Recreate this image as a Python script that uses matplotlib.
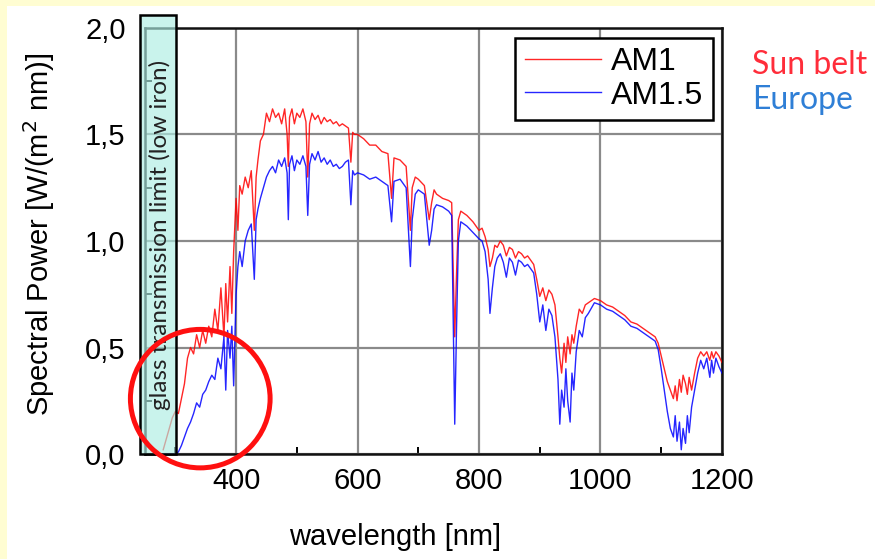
import numpy as np
import matplotlib.pyplot as plt
from matplotlib.patches import Rectangle, Ellipse
from matplotlib.ticker import MultipleLocator, FuncFormatter

# wavelength grid [nm] and spectral power [W/(m^2 nm)]
wavelength = [
    280, 285, 290, 295, 300, 305, 310, 315, 320, 325, 330, 335, 340, 345, 350, 355,
    360, 365, 370, 375, 380, 383, 386, 390, 393, 396, 400, 403, 406, 410, 415, 420,
    425, 430, 433, 436, 440, 445, 450, 455, 460, 465, 470, 475, 480, 484, 486, 488,
    492, 496, 500, 505, 510, 515, 518, 521, 525, 530, 535, 540, 545, 550, 555, 560,
    565, 570, 575, 580, 585, 589, 592, 595, 600, 610, 620, 630, 640, 650, 656, 660,
    670, 680, 687, 690, 695, 700, 710, 718, 722, 726, 730, 740, 750, 755, 760, 763,
    766, 770, 780, 790, 800, 805, 810, 815, 818, 822, 826, 830, 835, 840, 845, 850,
    855, 860, 865, 870, 875, 880, 885, 890, 895, 900, 905, 910, 915, 920, 925, 930,
    933, 936, 940, 943, 946, 950, 953, 956, 960, 965, 970, 975, 980, 990, 1000, 1010,
    1020, 1030, 1040, 1050, 1060, 1070, 1080, 1090, 1095, 1100, 1105, 1110, 1115, 1120,
    1123, 1126, 1130, 1133, 1136, 1140, 1143, 1146, 1150, 1155, 1160, 1165, 1170, 1175,
    1180, 1183, 1186, 1190, 1195, 1200,
]

am1 = [
    0.02, 0.07, 0.12, 0.17, 0.20, 0.19, 0.26, 0.33, 0.45, 0.50, 0.47, 0.56, 0.50, 0.58, 0.52, 0.60,
    0.55, 0.68, 0.58, 0.78, 0.55, 0.80, 0.62, 0.88, 0.66, 0.95, 1.20, 1.05, 1.26, 1.22, 1.30, 1.25,
    1.33, 1.05, 1.30, 1.38, 1.47, 1.50, 1.60, 1.56, 1.62, 1.58, 1.60, 1.55, 1.62, 1.50, 1.35, 1.58,
    1.62, 1.55, 1.60, 1.58, 1.62, 1.56, 1.30, 1.55, 1.60, 1.57, 1.59, 1.55, 1.58, 1.56, 1.57, 1.55,
    1.56, 1.54, 1.55, 1.54, 1.53, 1.37, 1.51, 1.50, 1.50, 1.48, 1.45, 1.45, 1.42, 1.41, 1.20, 1.39,
    1.38, 1.35, 1.05, 1.25, 1.30, 1.29, 1.26, 1.10, 1.18, 1.24, 1.22, 1.20, 1.19, 1.18, 0.55, 0.85,
    1.10, 1.14, 1.12, 1.09, 1.05, 1.06, 1.02, 0.96, 0.88, 0.92, 0.98, 0.97, 1.00, 0.98, 0.93, 0.97,
    0.96, 0.92, 0.95, 0.94, 0.92, 0.93, 0.91, 0.89, 0.82, 0.74, 0.78, 0.72, 0.77, 0.75, 0.70, 0.55,
    0.45, 0.38, 0.52, 0.43, 0.55, 0.47, 0.56, 0.52, 0.60, 0.68, 0.66, 0.70, 0.71, 0.73, 0.72, 0.70,
    0.69, 0.67, 0.65, 0.62, 0.61, 0.59, 0.57, 0.55, 0.52, 0.46, 0.40, 0.34, 0.30, 0.26,
    0.32, 0.25, 0.35, 0.29, 0.37, 0.33, 0.28, 0.36, 0.30, 0.38, 0.45, 0.48, 0.46, 0.48,
    0.44, 0.48, 0.45, 0.48, 0.46, 0.43,
]

am15 = [
    0.00, 0.00, 0.00, 0.00, 0.00, 0.01, 0.04, 0.08, 0.12, 0.15, 0.19, 0.24, 0.22, 0.28, 0.30, 0.34,
    0.37, 0.35, 0.45, 0.40, 0.55, 0.30, 0.58, 0.45, 0.60, 0.32, 0.75, 0.88, 0.95, 0.88, 1.00, 1.05,
    1.08, 0.82, 1.10, 1.15, 1.20, 1.25, 1.30, 1.33, 1.35, 1.32, 1.38, 1.35, 1.39, 1.32, 1.10, 1.36,
    1.40, 1.33, 1.38, 1.36, 1.40, 1.35, 1.12, 1.36, 1.41, 1.38, 1.42, 1.37, 1.39, 1.36, 1.38, 1.35,
    1.36, 1.34, 1.35, 1.37, 1.38, 1.17, 1.33, 1.31, 1.32, 1.31, 1.29, 1.30, 1.28, 1.26, 1.09, 1.28,
    1.29, 1.25, 0.88, 1.10, 1.22, 1.24, 1.22, 0.98, 1.05, 1.15, 1.17, 1.16, 1.14, 1.12, 0.14, 0.60,
    1.00, 1.09, 1.07, 1.04, 1.01, 1.00, 0.95, 0.82, 0.66, 0.78, 0.88, 0.92, 0.94, 0.90, 0.83, 0.92,
    0.90, 0.84, 0.91, 0.90, 0.88, 0.89, 0.87, 0.85, 0.75, 0.62, 0.70, 0.58, 0.68, 0.65, 0.55, 0.35,
    0.14, 0.30, 0.22, 0.40, 0.25, 0.15, 0.38, 0.30, 0.48, 0.58, 0.55, 0.64, 0.66, 0.71, 0.70, 0.68,
    0.67, 0.65, 0.63, 0.60, 0.59, 0.57, 0.55, 0.53, 0.49, 0.40, 0.30, 0.20, 0.12, 0.08,
    0.18, 0.06, 0.15, 0.02, 0.12, 0.05, 0.18, 0.10, 0.22, 0.30, 0.38, 0.44, 0.40, 0.45,
    0.36, 0.44, 0.38, 0.45, 0.41, 0.38,
]

series_labels = ["AM1", "AM1.5"]
region_labels = ["Sun belt", "Europe"]

plt.rcParams["font.family"] = ["Liberation Sans", "DejaVu Sans"]

fig = plt.figure(figsize=(8.75, 5.59), dpi=100)
fig.patch.set_facecolor("#FFFDD2")
fig.patches.append(Rectangle((0.008, 0), 1.0, 0.989, transform=fig.transFigure,
                             facecolor="white", edgecolor="none", zorder=-10))

ax = fig.add_axes([0.1657, 0.1878, 0.6594, 0.7622])
ax.set_facecolor("none")

wl = np.array(wavelength)
ax.plot(wl, am1, color="#FF0000", lw=1.0, alpha=0.85, label=series_labels[0], zorder=3)
ax.plot(wl, am15, color="#0000FF", lw=1.0, alpha=0.85, label=series_labels[1], zorder=4)

ax.set_xlim(250, 1200)
ax.set_ylim(0, 2.0)
ax.xaxis.set_major_locator(MultipleLocator(200))
ax.xaxis.set_minor_locator(MultipleLocator(100))
ax.yaxis.set_major_locator(MultipleLocator(0.5))
ax.yaxis.set_minor_locator(MultipleLocator(0.25))
ax.yaxis.set_major_formatter(FuncFormatter(lambda v, p: f"{v:.1f}".replace(".", ",")))

ax.grid(True, which="major", color="#8a8a8a", lw=1.6, zorder=1)
ax.set_axisbelow(True)
ax.tick_params(which="both", direction="in", width=1.4, colors="black", labelsize=21)
ax.tick_params(which="major", length=0)
ax.tick_params(which="minor", length=5)
ax.tick_params(axis="y", pad=14)
ax.tick_params(axis="x", pad=9)
for s in ax.spines.values():
    s.set_linewidth(1.8)
    s.set_color("#111111")

ax.set_ylabel("Spectral Power [W/(m$^2$ nm)]", fontsize=21)
ax.yaxis.set_label_coords(-0.153, 0.515)
ax.set_xlabel("wavelength [nm]", fontsize=21)
ax.xaxis.set_label_coords(0.433, -0.163)

leg = ax.legend(loc="upper right", bbox_to_anchor=(0.984, 0.977), fontsize=23,
                frameon=True, fancybox=False, framealpha=1, edgecolor="black",
                handlelength=2.4, handletextpad=0.3, borderpad=0.3,
                labelspacing=0.1, borderaxespad=0)
leg.get_frame().set_linewidth(1.8)

# glass transmission limit box
box = Rectangle((242, 0), 59, 2.06, facecolor=(0.68, 0.93, 0.89, 0.65),
                edgecolor="black", lw=1.8, clip_on=False, zorder=5)
ax.add_patch(box)
ax.text(274, 1.03, "glass transmission limit (low iron)", rotation=90,
        ha="center", va="center", fontsize=17.5, family=["Lato", "DejaVu Sans"],
        color="#222222", zorder=6)

ax.add_patch(Ellipse((341, 0.26), 230, 0.65, facecolor="none", edgecolor="#FF1010",
                     lw=3.6, clip_on=False, zorder=7))

fig.text(0.859, 0.884, region_labels[0], color="#FF2D3A", fontsize=23,
         family=["Lato", "DejaVu Sans"], ha="left", va="center")
fig.text(0.860, 0.821, region_labels[1], color="#2F7FD6", fontsize=23,
         family=["Lato", "DejaVu Sans"], ha="left", va="center")

fig.savefig("out.png", dpi=100, facecolor=fig.get_facecolor())
